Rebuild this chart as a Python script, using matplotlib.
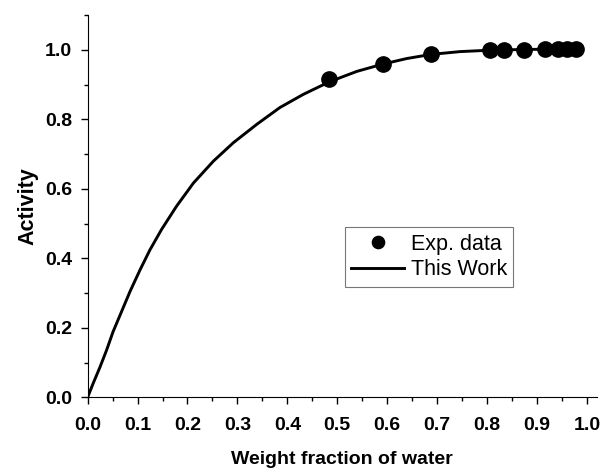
import matplotlib
matplotlib.use("Agg")
import matplotlib.pyplot as plt
from matplotlib.ticker import MultipleLocator

plt.rcParams['font.family'] = ['Liberation Sans', 'DejaVu Sans']

# experimental points
exp_x = [0.484, 0.591, 0.688, 0.805, 0.834, 0.874, 0.916, 0.941, 0.960, 0.977]
exp_y = [0.915, 0.959, 0.987, 0.999, 1.000, 1.001, 1.002, 1.003, 1.003, 1.003]

# model curve
fit_x = [0.0, 0.011, 0.025, 0.038, 0.051, 0.068, 0.085, 0.105, 0.125, 0.148,
         0.178, 0.212, 0.252, 0.292, 0.339, 0.385, 0.432, 0.484, 0.539, 0.591,
         0.639, 0.688, 0.746, 0.805, 0.87, 0.93, 0.98]
fit_y = [0.0, 0.040, 0.088, 0.136, 0.189, 0.247, 0.305, 0.367, 0.425, 0.483,
         0.550, 0.617, 0.680, 0.733, 0.786, 0.834, 0.872, 0.908, 0.938, 0.959,
         0.975, 0.987, 0.995, 0.999, 1.001, 1.002, 1.003]

fig = plt.figure(figsize=(6, 4.72), dpi=100)
ax = fig.add_axes([0.146, 0.158, 0.849, 0.81])

ax.plot(fit_x, fit_y, color='black', lw=2.1, label='This Work', zorder=2,
        solid_joinstyle='round')
ax.plot(exp_x, exp_y, 'o', color='black', ms=11, label='Exp. data', zorder=3)

ax.spines['top'].set_visible(False)
ax.spines['right'].set_visible(False)

ax.xaxis.set_minor_locator(MultipleLocator(0.05))
ax.yaxis.set_minor_locator(MultipleLocator(0.1))
ax.tick_params(which='major', direction='out', length=5, width=1, labelsize=14)
ax.tick_params(which='minor', direction='out', length=3, width=1)
ax.tick_params(axis='x', pad=9)
ax.tick_params(axis='y', pad=6)
ax.set_xticks([i / 10 for i in range(11)])
ax.set_xticklabels(['%.1f' % (i / 10) for i in range(11)], fontweight='bold')
ax.set_yticks([i / 5 for i in range(6)])
ax.set_yticklabels(['%.1f' % (i / 5) for i in range(6)], fontweight='bold')
ax.set_xlim(0, 1.02)
ax.set_ylim(0, 1.1)

ax.set_xlabel('Weight fraction of water', fontsize=14, fontweight='bold', labelpad=12)
ax.set_ylabel('Activity', fontsize=15.5, fontweight='bold', labelpad=5)

handles, labels = ax.get_legend_handles_labels()
leg = ax.legend(handles[::-1], labels[::-1], loc='upper left',
                bbox_to_anchor=(0.505, 0.445), borderaxespad=0, fontsize=15.5,
                frameon=True, fancybox=False, handlelength=2.45, handletextpad=0.3,
                borderpad=0.3, labelspacing=0.2, markerscale=0.8)
leg.get_frame().set_edgecolor('#555555')
leg.get_frame().set_linewidth(0.8)

fig.savefig('out.png', dpi=100)
